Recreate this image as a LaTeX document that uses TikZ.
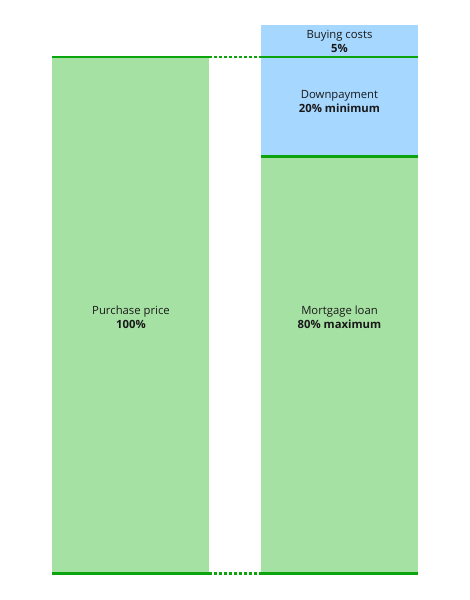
\documentclass[tikz,border=0pt]{standalone}
\usepackage{fontspec}
\setmainfont{Open Sans}
\definecolor{barGreen}{HTML}{A6E1A4}
\definecolor{barBlue}{HTML}{A6D7FF}
\definecolor{lineGreen}{HTML}{0CA40C}
\begin{document}
\begin{tikzpicture}[x=1pt,y=-1pt,
  barbox/.style={inner sep=0pt, anchor=north west, draw=none},
  lbl/.style={font=\fontsize{11.3}{14}\selectfont, align=center, text=black!90},
  solidline/.style={draw=lineGreen, line width=2.6pt},
  dotline/.style={draw=lineGreen, line width=2.6pt, dash pattern=on 3pt off 2pt}]
\useasboundingbox (0,0) rectangle (470,600);
% bars
\node[barbox, fill=barGreen, minimum width=157pt, minimum height=516pt] (purchase) at (52,57) {};
\node[barbox, fill=barGreen, minimum width=157pt, minimum height=417pt] (mortgage) at (261,156) {};
\node[barbox, fill=barBlue, minimum width=157pt, minimum height=99pt] (down) at (261,57) {};
\node[barbox, fill=barBlue, minimum width=157pt, minimum height=32pt] (buying) at (261,25) {};
% labels
\node[lbl] (tpurchase) at (131,317) {Purchase price\\\textbf{100\%}};
\node[lbl] (tmortgage) at (339.5,317) {Mortgage loan\\\textbf{80\% maximum}};
\node[lbl] (tdown) at (339.5,101.5) {Downpayment\\\textbf{20\% minimum}};
\node[lbl] (tbuying) at (339.5,41) {Buying costs\\\textbf{5\%}};
% lines
\draw[solidline] (purchase.north west) -- (purchase.north east);
\draw[dotline] (purchase.north east) -- (down.north west);
\draw[solidline] (down.north west) -- (down.north east);
\draw[solidline] (down.south west) -- (down.south east);
\draw[solidline] (purchase.south west) -- (purchase.south east);
\draw[dotline] (purchase.south east) -- (mortgage.south west);
\draw[solidline] (mortgage.south west) -- (mortgage.south east);
\end{tikzpicture}
\end{document}
